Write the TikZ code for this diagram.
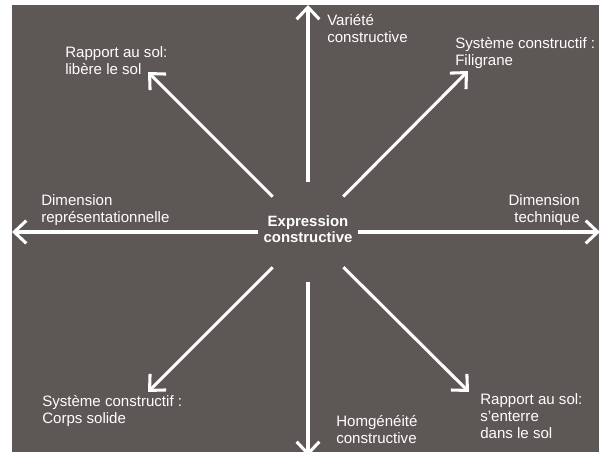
\documentclass[tikz,border=0pt]{standalone}
\usepackage{fontspec}
\setmainfont{Liberation Sans}
\usetikzlibrary{calc}
\usetikzlibrary{arrows.meta}
\definecolor{slate}{RGB}{93,88,85}
\tikzset{
  ray/.style={draw=white, line width=2.3pt,
    -{Straight Barb[length=9pt,width=17pt]}},
  lbl/.style={text=white, align=left, anchor=base west, inner sep=0pt,
    font=\fontsize{11.3}{12.4}\selectfont},
  hub/.style={text=white, align=center, inner sep=0pt,
    font=\bfseries\fontsize{11.2}{12.4}\selectfont},
}

\begin{document}
\begin{tikzpicture}[x=0.75pt,y=-0.75pt]
\useasboundingbox (0,0) rectangle (603,457);
\fill[slate] (12,5) rectangle (599,452);

%%%%%%%%%%%%%%%%%%%%%%%%%%%%%%%%%%%%%%%%%%%%%%%%%%%%%%%%%%%%%% centre
\coordinate (A) at (308,232);
\node[hub] (ctr) at (308,229) {Expression\\constructive};

%%%%%%%%%%%%%%%%%%%%%%%%%%%%%%%%%%%%%%%%%%%%%%%%%%%%%%%%%%%%%% rays
\foreach \nm/\dx/\dy in {n/0/-227, ne/160/-161, e/292/0, se/161/160,
                         s/0/224, sw/-160/160, w/-296/0, nw/-160/-160}{
  \coordinate (\nm) at ($(A)+(\dx,\dy)$);
  \draw[ray] ($(A)!37.5pt!(\nm)$) -- (\nm);
}

%%%%%%%%%%%%%%%%%%%%%%%%%%%%%%%%%%%%%%%%%%%%%%%%%%%%%%%%%%%%%% labels
% (base = last line)
\node[lbl] (var) at (327,42) {Variété\\constructive};
\node[lbl] (sol-up) at (65,74) {Rapport au sol:\\libère le sol};
\node[lbl] (fil) at (455,65) {Système constructif :\\Filigrane};
\node[lbl] (rep) at (41,222) {Dimension\\représentationnelle};
\node[lbl, anchor=base east, align=right] (tech) at (580,222) {Dimension\\technique};
\node[lbl] (corps) at (42,423) {Système constructif :\\Corps solide};
\node[lbl] (homg) at (336,443) {Homgénéité\\constructive};
\node[lbl] (sol-dn) at (480,438) {Rapport au sol:\\s'enterre\\dans le sol};

\end{tikzpicture}
\end{document}
